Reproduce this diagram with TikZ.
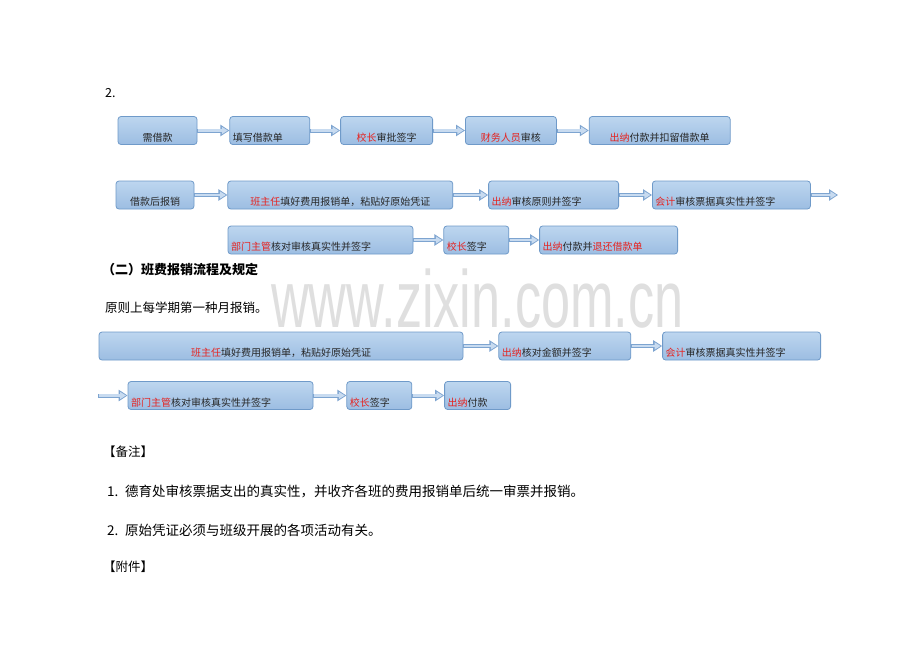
\documentclass[tikz,border=0pt]{standalone}
\usepackage{fontspec}
\setmainfont{Noto Sans CJK SC}
\newfontfamily\wmfont{Liberation Sans}
\usetikzlibrary{positioning,arrows.meta}

\definecolor{boxtop}{HTML}{BDD6EF}
\definecolor{boxbot}{HTML}{9CBDE2}
\definecolor{boxline}{HTML}{6F9AC9}
\definecolor{arrline}{HTML}{7DA4D0}
\definecolor{arrfill}{HTML}{C8DBF0}
\definecolor{hired}{HTML}{E52421}
\definecolor{wmgray}{HTML}{DFDFDF}
\newcommand{\rd}[1]{\textcolor{hired}{#1}}

\tikzset{
  flowbox/.style={draw=boxline, line width=0.8pt, rounded corners=3pt,
    top color=boxtop, bottom color=boxbot, text=black!85,
    font=\fontsize{10}{11}\selectfont,
    inner xsep=3pt, inner ysep=2pt, text height=22.5pt, text depth=1.5pt},
  lbox/.style={flowbox, text width=#1-6pt, align=left},
  cbox/.style={flowbox, text width=#1-6pt, align=center},
  blockarr/.style={draw=arrline, line width=4pt, -{Triangle[length=9pt,width=11pt]},
    postaction={draw=arrfill, line width=2.2pt, -{Triangle[length=6pt,width=7pt]},
      shorten >=1.6pt, shorten <=0.8pt}},
  plain/.style={anchor=west, inner sep=0pt, font=\fontsize{12.5}{14}\selectfont}
}

\begin{document}
\begin{tikzpicture}[x=1pt,y=-1pt]
\useasboundingbox[fill=white] (0,0) rectangle (920,651);

% watermark
\node[anchor=base west, inner sep=0pt, text=wmgray, font=\wmfont\fontsize{81}{81}\selectfont]
  (wm) at (271,327) {\scalebox{0.645}[1]{www.zixin.com.cn}};

\node[plain] (num) at (105,93) {2.};

% borrowing
\node[cbox=79pt] (b1) at (157.5,130.5) {需借款};
\node[lbox=80pt, right=32pt of b1] (b2) {填写借款单};
\node[cbox=92pt, right=30pt of b2] (b3) {\rd{校长}审批签字};
\node[cbox=91pt, right=32pt of b3] (b4) {\rd{财务人员}审核};
\node[cbox=141pt, right=32pt of b4] (b5) {\rd{出纳}付款并扣留借款单};
\draw[blockarr] (b1) -- (b2);
\draw[blockarr] (b2) -- (b3);
\draw[blockarr] (b3) -- (b4);
\draw[blockarr] (b4) -- (b5);

% repaying
\node[cbox=78pt] (c1) at (155,195) {借款后报销};
\node[cbox=225pt, right=33pt of c1] (c2) {\rd{班主任}填好费用报销单，粘贴好原始凭证};
\node[lbox=130pt, right=35pt of c2] (c3) {\rd{出纳}审核原则并签字};
\node[lbox=158pt, right=33pt of c3] (c4) {\rd{会计}审核票据真实性并签字};
\coordinate (cend) at (838,195);
\draw[blockarr] (c1) -- (c2);
\draw[blockarr] (c2) -- (c3);
\draw[blockarr] (c3) -- (c4);
\draw[blockarr] (c4) -- (cend);

\node[lbox=185pt] (d1) at (320.5,240) {\rd{部门主管}核对审核真实性并签字};
\node[lbox=65pt, right=30pt of d1] (d2) {\rd{校长}签字};
\node[lbox=138pt, right=30pt of d2] (d3) {\rd{出纳}付款并\rd{退还借款单}};
\draw[blockarr] (d1) -- (d2);
\draw[blockarr] (d2) -- (d3);

\node[plain, font=\bfseries\fontsize{13}{15}\selectfont] (sec) at (102,270) {（二）班费报销流程及规定};
\node[plain] (rule) at (105,308) {原则上每学期第一种月报销。};

% class fee
\node[cbox=364pt] (e1) at (281,346) {\rd{班主任}填好费用报销单，粘贴好原始凭证};
\node[lbox=132pt, right=35pt of e1] (e2) {\rd{出纳}核对金额并签字};
\node[lbox=158pt, right=31pt of e2] (e3) {\rd{会计}审核票据真实性并签字};
\draw[blockarr] (e1) -- (e2);
\draw[blockarr] (e2) -- (e3);

\coordinate (fstart) at (98,395.5);
\node[lbox=185pt] (f1) at (220.5,395.5) {\rd{部门主管}核对审核真实性并签字};
\node[lbox=65pt, right=33pt of f1] (f2) {\rd{校长}签字};
\node[lbox=66pt, right=32pt of f2] (f3) {\rd{出纳}付款};
\draw[blockarr] (fstart) -- (f1);
\draw[blockarr] (f1) -- (f2);
\draw[blockarr] (f2) -- (f3);

\node[plain] (note) at (103,452) {【备注】};
\node[plain, font=\fontsize{13.5}{15}\selectfont] (r1) at (107,491) {1.\enspace 德育处审核票据支出的真实性，并收齐各班的费用报销单后统一审票并报销。};
\node[plain, font=\fontsize{13.5}{15}\selectfont] (r2) at (107,530) {2.\enspace 原始凭证必须与班级开展的各项活动有关。};
\node[plain] (att) at (103,567) {【附件】};
\end{tikzpicture}
\end{document}
